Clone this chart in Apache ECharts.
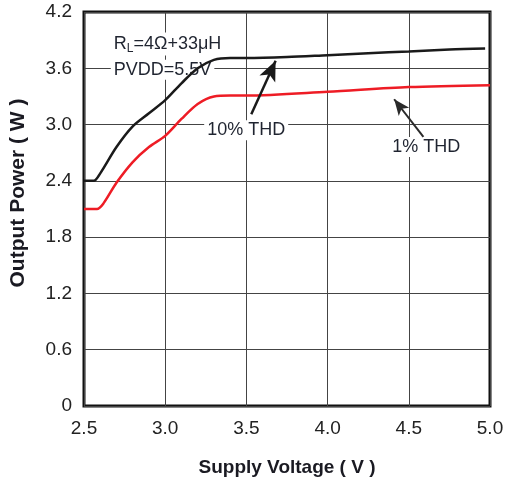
<!DOCTYPE html>
<html><head><meta charset="utf-8">
<script src="https://cdn.jsdelivr.net/npm/echarts@6/dist/echarts.min.js"></script>
<style>html,body{margin:0;padding:0;background:#fff}#c{width:508px;height:482px}</style>
</head><body><div id="c"></div>
<script>
// Supply voltage (V) vs output power (W)
const thd10 = [[2.5,2.40],[2.56,2.40],[2.6,2.48],[2.7,2.76],[2.8,2.98],[2.9,3.12],[3.0,3.26],[3.1,3.44],[3.2,3.60],[3.3,3.69],[3.4,3.71],[3.5,3.71],[3.75,3.72],[4.0,3.74],[4.25,3.76],[4.5,3.78],[4.75,3.80],[4.97,3.81]];
const thd1 = [[2.5,2.10],[2.58,2.10],[2.62,2.16],[2.7,2.38],[2.8,2.60],[2.9,2.76],[3.0,2.88],[3.1,3.06],[3.2,3.22],[3.3,3.30],[3.4,3.31],[3.5,3.31],[4.0,3.35],[4.5,3.40],[5.0,3.42]];
const xTicks = [2.5,3.0,3.5,4.0,4.5,5.0];
const yTicks = [0,0.6,1.2,1.8,2.4,3.0,3.6,4.2];
const arrow10 = [[3.53,3.11],[3.68,3.68]];
const arrow1 = [[4.59,2.87],[4.41,3.27]];
const notes = [
  {pos:[2.665,3.86], text:'{a|R}{s|L}{a|=4Ω+33μH}'},
  {pos:[2.665,3.585], text:'{a|PVDD=5.5V}'},
  {pos:[3.24,2.94], text:'{a|10% THD}'},
  {pos:[4.38,2.76], text:'{a|1% THD}'}
];
const txtColor = '#1f2430';
const font = 'Liberation Sans, Arial, sans-serif';
const chart = echarts.init(document.getElementById('c'));
chart.setOption({
  animation:false,
  grid:{left:82,right:18,top:12,bottom:75,show:true,borderColor:'#111',borderWidth:3,backgroundColor:'transparent'},
  xAxis:{type:'value',min:2.5,max:5.0,interval:0.5,
    name:'Supply Voltage ( V )',nameLocation:'middle',nameGap:52,
    nameTextStyle:{fontFamily:font,fontSize:19,fontWeight:'bold',color:'#1a1a22'},
    axisLine:{show:false},axisTick:{show:false},
    axisLabel:{margin:13,fontFamily:font,fontSize:19,color:'#222',formatter:v=>xTicks.includes(+v.toFixed(1))?v.toFixed(1):''},
    splitLine:{show:true,lineStyle:{color:'#444',width:1}}},
  yAxis:{type:'value',min:0,max:4.2,interval:0.6,
    name:'Output Power ( W )',nameLocation:'middle',nameGap:55,
    nameTextStyle:{fontFamily:font,fontSize:21,fontWeight:'bold',color:'#1a1a22',padding:[0,0,0,32]},
    axisLine:{show:false},axisTick:{show:false},
    axisLabel:{margin:12,fontFamily:font,fontSize:19,color:'#222',formatter:v=>{const r=+v.toFixed(1);return yTicks.includes(r)?(r===0?'0':r.toFixed(1)):'';}},
    splitLine:{show:true,lineStyle:{color:'#444',width:1}}},
  series:[
    {type:'line',data:thd10,smooth:0.3,symbol:'none',lineStyle:{color:'#1a1a1a',width:2.5},z:3,
      markLine:{silent:true,symbol:['none','arrow'],symbolSize:[13,20],label:{show:false},
        lineStyle:{color:'#1a1a1a',width:2.5,type:'solid'},
        data:[[{coord:arrow10[0]},{coord:arrow10[1]}]]}},
    {type:'line',data:thd1,smooth:0.3,symbol:'none',lineStyle:{color:'#ee1c25',width:2.5},z:3,
      markLine:{silent:true,symbol:['none','arrow'],symbolSize:[10,16],label:{show:false},
        lineStyle:{color:'#2a2a2a',width:2,type:'solid'},
        data:[[{coord:arrow1[0]},{coord:arrow1[1]}]]}}
  ]
});
const gfx = notes.map(n=>{
  const p = chart.convertToPixel({gridIndex:0}, n.pos);
  return {type:'text',x:p[0],y:p[1],z:2,style:{text:n.text,verticalAlign:'middle',align:'left',
    backgroundColor:'#fff',padding:[1,3],
    rich:{a:{fontFamily:font,fontSize:18,fill:txtColor,color:txtColor},
          s:{fontFamily:font,fontSize:12,fill:txtColor,color:txtColor,verticalAlign:'bottom',padding:[9,0,0,0]}}}};
});
chart.setOption({graphic:gfx});
</script></body></html>
